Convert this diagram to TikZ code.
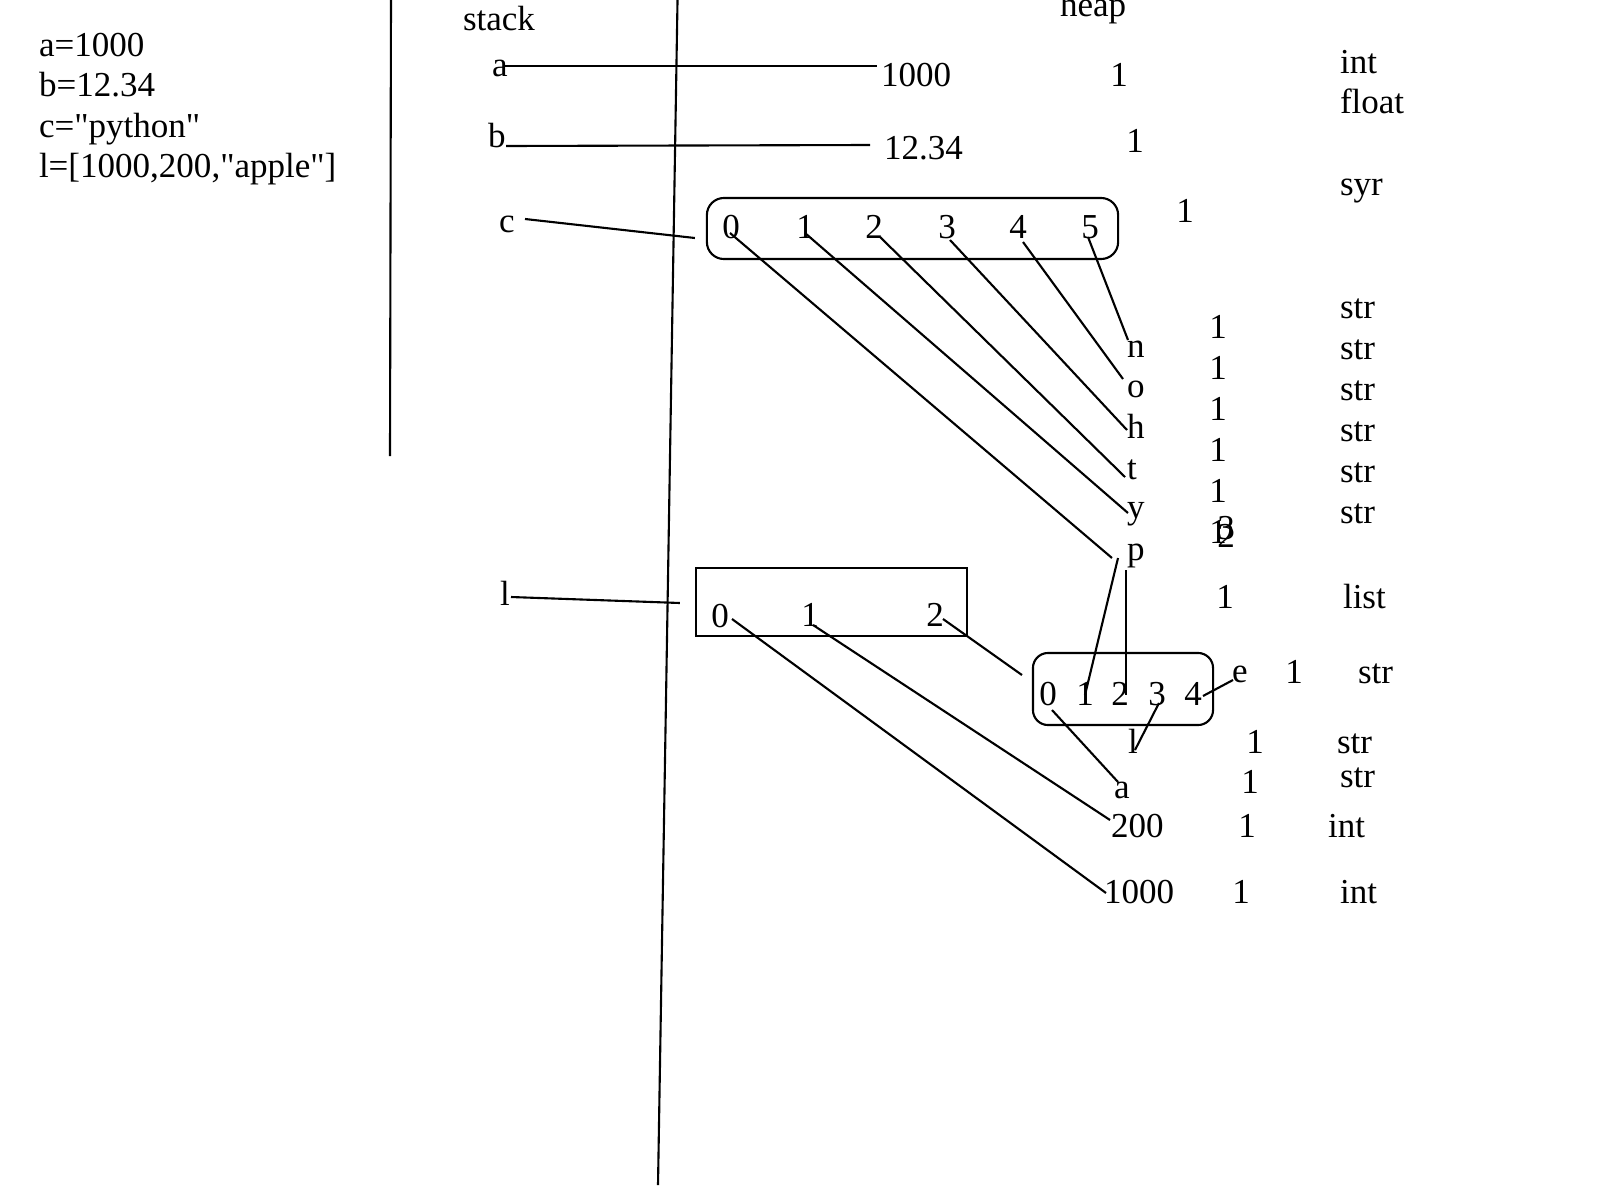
\documentclass[tikz,border=0pt]{standalone}
\usepackage{fontspec}
\setmainfont{Liberation Serif}
\newfontfamily\codefont{Liberation Serif}
\usetikzlibrary{calc}
\begin{document}
\begin{tikzpicture}[x=0.01cm, y=-0.01cm,
  txt/.style={inner sep=0pt, outer sep=0pt, font=\fontsize{9.96pt}{12pt}\selectfont},
  lw/.style={txt, anchor=base west},
  ch/.style={txt, anchor=base},
  conn/.style={line width=0.6pt},
  frame/.style={draw, line width=0.6pt, inner sep=0pt, outer sep=0pt}]
\useasboundingbox (0,0) rectangle (1600,1200);
% code
\node[lw] (code1) at (39,56) {a=1000};
\node[lw] (code2) at (39,96) {b=12.34};
\node[lw] (code3) at (39,137) {\codefont c="python"};
\node[lw] (code4) at (39,177) {\codefont l=[1000,200,"apple"]};
% separators
\coordinate (v1t) at (391,-5); \coordinate (v1b) at (390,456);
\coordinate (v2t) at (677.6,-5); \coordinate (v2b) at (658,1185);
\draw[conn] (v1t) -- (v1b);
\draw[conn] (v2t) -- (v2b);
% headers
\node[lw] (stack) at (463,31) {stack};
\node[lw] (heap) at (1060,16) {heap};
% stack variables
\node[ch] (va) at (500,77) {a};
\node[ch] (vb) at (497,147) {b};
\node[ch] (vc) at (507,232) {c};
\node[ch] (vl) at (505,605) {l};
% simple values
\node[lw] (ha) at (881,87) {1000};
\node[lw] (hb) at (884,159) {12.34};
% reference counts
\node[ch] (rca) at (1119,86) {1};
\node[ch] (rcb) at (1135,152) {1};
\node[ch] (rcc) at (1185,222) {1};
\node[ch] (rcn) at (1218,338) {1};
\node[ch] (rco) at (1218,379) {1};
\node[ch] (rch) at (1218,420) {1};
\node[ch] (rct) at (1218,461) {1};
\node[ch] (rcy) at (1218,502) {1};
\node[ch] (rcpa) at (1218,543) {1};
\node[ch] (rcpb) at (1226,539) {3};
\node[ch] (rcpc) at (1226,547) {2};
\node[ch] (rclist) at (1225,608) {1};
\node[ch] (rce) at (1294,683) {1};
\node[ch] (rcl) at (1255,753) {1};
\node[ch] (rcaa) at (1250,793) {1};
\node[ch] (rc200) at (1247,837) {1};
\node[ch] (rc1000) at (1241,903) {1};
% types
\node[lw] (tint) at (1340,73) {int};
\node[lw] (tfloat) at (1340,113) {float};
\node[lw] (tsyr) at (1340,195) {syr};
\node[lw] (ts1) at (1340,318) {str};
\node[lw] (ts2) at (1340,359) {str};
\node[lw] (ts3) at (1340,400) {str};
\node[lw] (ts4) at (1340,441) {str};
\node[lw] (ts5) at (1340,482) {str};
\node[lw] (ts6) at (1340,523) {str};
\node[lw] (tlist) at (1343,608) {list};
\node[lw] (tse) at (1358,683) {str};
\node[lw] (tsl) at (1337,753) {str};
\node[lw] (tsa) at (1340,787) {str};
\node[lw] (tint200) at (1328,837) {int};
\node[lw] (tint1000) at (1340,903) {int};
% string "python"
\node[frame, rounded corners=0.17cm, minimum width=4.11cm, minimum height=0.61cm] (cbox) at (912.5,228.5) {};
\node[ch] (c0) at (731,238) {0};
\node[ch] (c1) at (805,238) {1};
\node[ch] (c2) at (874,238) {2};
\node[ch] (c3) at (947,238) {3};
\node[ch] (c4) at (1018,238) {4};
\node[ch] (c5) at (1090,238) {5};
\node[lw] (ln) at (1127,357) {n};
\node[lw] (lo) at (1127,397) {o};
\node[lw] (lh) at (1127,438) {h};
\node[lw] (lt) at (1127,479) {t};
\node[lw] (ly) at (1127,518) {y};
\node[lw] (lp) at (1127,560) {p};
% list
\node[frame, minimum width=2.71cm, minimum height=0.68cm] (lrect) at (831.5,602) {};
\node[ch] (l0) at (720,627) {0};
\node[ch] (l1) at (810,626) {1};
\node[ch] (l2) at (935,626) {2};
% string "apple"
\node[frame, rounded corners=0.15cm, minimum width=1.80cm, minimum height=0.72cm] (abox) at (1123,689) {};
\node[ch] (a0) at (1048,705) {0};
\node[ch] (a1) at (1085,705) {1};
\node[ch] (a2) at (1120,705) {2};
\node[ch] (a3) at (1157,705) {3};
\node[ch] (a4) at (1193,705) {4};
\node[lw] (le) at (1232,682) {e};
\node[ch] (ll) at (1133,753) {l};
\node[ch] (laa) at (1122,798) {a};
\node[lw] (h200) at (1111,837) {200};
\node[lw] (h1000) at (1104,903) {1000};
% connectors
\draw[conn] ($(va.base)+(5,-11)$) -- ($(ha.base west)+(-4,-21)$);
\draw[conn] ($(vb.base)+(9,-1)$) -- ($(hb.base west)+(-14,-14)$);
\draw[conn] ($(vc.base)+(18,-13)$) -- ($(cbox.west)+(-12,9.5)$);
\draw[conn] ($(c0.base)+(-1,-5)$) -- ($(lp.base west)+(-15,-2)$);
\draw[conn] ($(c1.base)+(0,-5)$) -- ($(ly.base west)+(1,-5)$);
\draw[conn] ($(c2.base)+(6,-1)$) -- ($(lt.base west)+(-2,-2)$);
\draw[conn] ($(c3.base)+(3,2)$) -- ($(lh.base west)+(0,-8)$);
\draw[conn] ($(c4.base)+(5,4)$) -- ($(lo.base west)+(-4,-18)$);
\draw[conn] ($(c5.base)+(-2,-1)$) -- ($(ln.base west)+(1,-17)$);
\draw[conn] ($(vl.base)+(6,-8)$) -- ($(lrect.west)+(-16,1)$);
\draw[conn] ($(l0.base)+(12,-8)$) -- ($(h1000.base west)+(2,-10)$);
\draw[conn] ($(l1.base)+(3,-1)$) -- ($(h200.base west)+(-1,-17)$);
\draw[conn] ($(l2.base)+(8,-7)$) -- ($(abox.west)+(-11,-14)$);
\draw[conn] ($(lp.base west)+(-9,-2)$) -- ($(a1.base)+(0,-10)$);
\draw[conn] ($(lp.base west)+(-1,10)$) -- ($(a2.base)+(6,-10)$);
\draw[conn] ($(a4.base)+(10,-9)$) -- ($(le.base west)+(1,-2)$);
\draw[conn] ($(a3.base)+(2,-2)$) -- ($(ll.base)+(2,-3)$);
\draw[conn] ($(a0.base)+(4,5)$) -- ($(laa.base)+(-4,-16)$);
\end{tikzpicture}
\end{document}
